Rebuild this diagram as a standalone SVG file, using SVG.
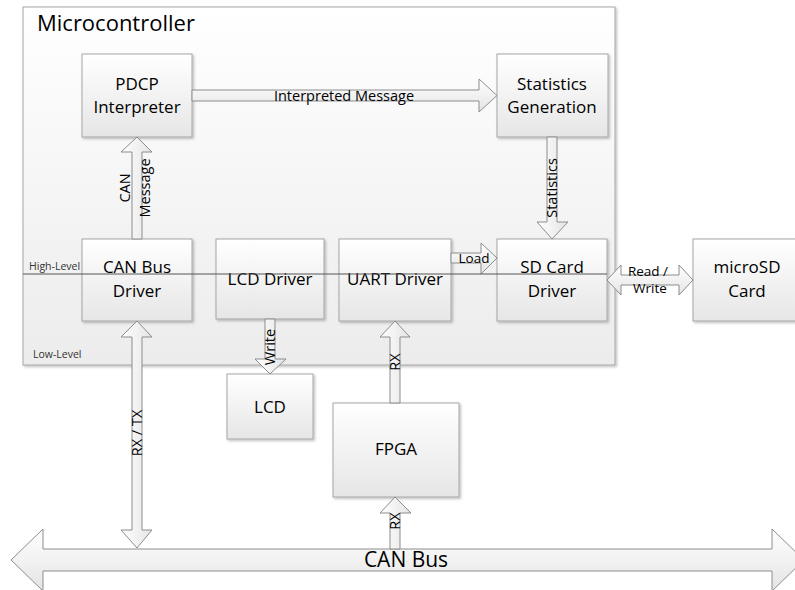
<svg xmlns="http://www.w3.org/2000/svg" width="795" height="590" viewBox="0 0 795 590">
  <defs>
    <linearGradient id="boxFill" x1="0" y1="0" x2="0" y2="1">
      <stop offset="0" stop-color="#ffffff"/>
      <stop offset="1" stop-color="#e6e6e6"/>
    </linearGradient>
    <linearGradient id="mcuFill" x1="0" y1="0" x2="0" y2="1">
      <stop offset="0" stop-color="#ffffff"/>
      <stop offset="1" stop-color="#ececec"/>
    </linearGradient>
    <linearGradient id="arrowV" x1="0" y1="0" x2="1" y2="0">
      <stop offset="0" stop-color="#ffffff"/>
      <stop offset="1" stop-color="#e4e4e4"/>
    </linearGradient>
    <linearGradient id="arrowH" x1="0" y1="0" x2="0" y2="1">
      <stop offset="0" stop-color="#ffffff"/>
      <stop offset="1" stop-color="#e4e4e4"/>
    </linearGradient>
    <filter id="shadow" x="-10%" y="-10%" width="130%" height="130%">
      <feDropShadow dx="1.5" dy="1.5" stdDeviation="1" flood-color="#000" flood-opacity="0.25"/>
    </filter>
  </defs>
  <style>
    .box { fill: url(#boxFill); stroke: #a6a6a6; stroke-width: 1; filter: url(#shadow); }
    .mcu { fill: url(#mcuFill); stroke: #a6a6a6; stroke-width: 1; filter: url(#shadow); }
    .av { fill: url(#arrowV); stroke: #8c8c8c; stroke-width: 1; stroke-linejoin: miter; }
    .ah { fill: url(#arrowH); stroke: #8c8c8c; stroke-width: 1; stroke-linejoin: miter; }
    text { font-family: "Open Sans", "Liberation Sans", sans-serif; fill: #000; }
    .node { font-size: 17px; text-anchor: middle; }
    .lbl { font-size: 13.5px; text-anchor: middle; }
    .lbl-v { font-size: 14.5px; text-anchor: middle; }
    .lbl-wide { font-size: 14.5px; text-anchor: middle; }
    .lvl { font-size: 10.5px; fill: #333; }
    .title { font-size: 22px; }
    .bus { font-size: 21px; text-anchor: middle; }
    .divider { stroke: #555; stroke-width: 1; }
  </style>

  <!-- Microcontroller enclosure -->
  <g id="microcontroller">
    <rect class="mcu" x="23" y="7" width="592" height="358"/>
    <text class="title" x="37" y="31">Microcontroller</text>
    <text class="lvl" x="29" y="270">High-Level</text>
    <text class="lvl" x="33" y="358">Low-Level</text>
  </g>

  <!-- Blocks -->
  <g id="pdcp-interpreter">
    <rect class="box" x="82" y="54" width="110" height="83"/>
    <text class="node" x="137" y="90">PDCP</text>
    <text class="node" x="137" y="113">Interpreter</text>
  </g>
  <g id="statistics-generation">
    <rect class="box" x="497" y="54" width="111" height="83"/>
    <text class="node" x="552" y="90">Statistics</text>
    <text class="node" x="552" y="113">Generation</text>
  </g>
  <g id="can-bus-driver">
    <rect class="box" x="82" y="239" width="110" height="82"/>
    <text class="node" x="137" y="273">CAN Bus</text>
    <text class="node" x="137" y="297">Driver</text>
  </g>
  <g id="lcd-driver">
    <rect class="box" x="216" y="239" width="108" height="80"/>
    <text class="node" x="270" y="285">LCD Driver</text>
  </g>
  <g id="uart-driver">
    <rect class="box" x="339" y="239" width="112" height="82"/>
    <text class="node" x="395" y="285">UART Driver</text>
  </g>
  <g id="sd-card-driver">
    <rect class="box" x="497" y="239" width="110" height="82"/>
    <text class="node" x="552" y="273">SD Card</text>
    <text class="node" x="552" y="297">Driver</text>
  </g>
  <g id="microsd-card">
    <rect class="box" x="693" y="239" width="110" height="82"/>
    <text class="node" x="747" y="273">microSD</text>
    <text class="node" x="747" y="297">Card</text>
  </g>
  <g id="lcd">
    <rect class="box" x="227" y="374" width="86" height="65"/>
    <text class="node" x="270" y="413">LCD</text>
  </g>
  <g id="fpga">
    <rect class="box" x="333" y="403" width="126" height="94"/>
    <text class="node" x="396" y="455">FPGA</text>
  </g>

  <!-- Connectors -->
  <g id="connectors">
    <!-- CAN bus -->
    <polygon class="ah" points="11,560 43,529 43,549 772,549 772,529 804,560 772,591 772,571 43,571 43,591"/>
    <text class="bus" x="406" y="567">CAN Bus</text>

    <!-- PDCP -> Statistics -->
    <polygon class="ah" points="192,90 479,90 479,79 497,95.5 479,112 479,101 192,101"/>
    <text class="lbl-wide" x="344" y="101">Interpreted Message</text>

    <!-- CAN Bus Driver -> PDCP -->
    <polygon class="av" points="132,239 132,152 121,152 137,137 152,152 142,152 142,239"/>
    <text class="lbl-v" transform="translate(137,188) rotate(-90)" x="0" y="-7">CAN</text>
    <text class="lbl-v" transform="translate(137,188) rotate(-90)" x="0" y="13">Message</text>

    <!-- Statistics -> SD Card Driver -->
    <polygon class="av" points="547,137 557,137 557,222 568,222 552,239 537,222 547,222"/>
    <text class="lbl-v" transform="translate(552,188) rotate(-90)" x="0" y="5">Statistics</text>

    <!-- UART Driver -> SD Card Driver -->
    <polygon class="ah" points="451,253 481,253 481,243 497,258 481,274 481,263 451,263"/>
    <text class="lbl" x="474" y="263">Load</text>

    <!-- SD Card Driver <-> microSD Card -->
    <polygon class="ah" points="607,280 621,265 621,275 679,275 679,265 693,280 679,295 679,285 621,285 621,295"/>
    <text class="lbl" x="648" y="276">Read /</text>
    <text class="lbl" x="650" y="293">Write</text>

    <!-- LCD Driver -> LCD -->
    <polygon class="av" points="265,319 275,319 275,359 286,359 270,374 255,359 265,359"/>
    <text class="lbl-v" transform="translate(270,347) rotate(-90)" x="0" y="5">Write</text>

    <!-- FPGA -> UART Driver -->
    <polygon class="av" points="395,321 410,337 400,337 400,403 390,403 390,337 380,337"/>
    <text class="lbl-v" transform="translate(395,362) rotate(-90)" x="0" y="5">RX</text>

    <!-- CAN bus -> FPGA -->
    <polygon class="av" points="395,497 411,513 400,513 400,549 390,549 390,513 380,513"/>
    <text class="lbl-v" transform="translate(395,521) rotate(-90)" x="0" y="5">RX</text>

    <!-- CAN Bus Driver <-> CAN bus -->
    <polygon class="av" points="137,321 152,337 142,337 142,530 152,530 137,548 121,530 132,530 132,337 121,337"/>
    <text class="lbl-v" transform="translate(137,433) rotate(-90)" x="0" y="5">RX / TX</text>

    <!-- High-level / low-level divider -->
    <line class="divider" x1="23" y1="274" x2="607" y2="274"/>
  </g>
</svg>
